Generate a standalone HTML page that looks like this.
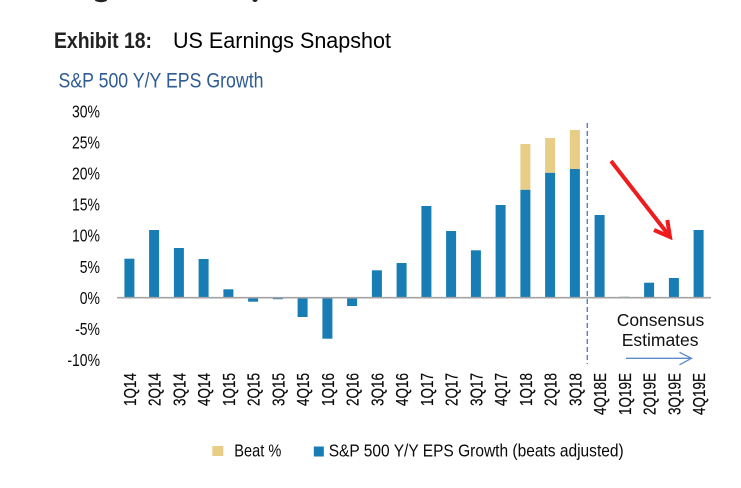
<!DOCTYPE html>
<html><head><meta charset="utf-8"><style>
html,body{margin:0;padding:0;background:#fff;}
svg{display:block;font-family:"Liberation Sans",sans-serif;}
</style></head><body>
<svg width="741" height="488" viewBox="0 0 741 488" xmlns="http://www.w3.org/2000/svg">
<rect width="741" height="488" fill="#fff"/>
<ellipse cx="101" cy="0" rx="6" ry="2.2" fill="#222"/>
<ellipse cx="255" cy="0" rx="2.5" ry="2" fill="#222"/>
<text x="54" y="48" font-size="22.5" font-weight="bold" fill="#222" textLength="98" lengthAdjust="spacingAndGlyphs">Exhibit 18:</text>
<text x="173" y="48" font-size="22.5" fill="#000" textLength="218" lengthAdjust="spacingAndGlyphs">US Earnings Snapshot</text>
<text x="58.5" y="87.5" font-size="21" fill="#2e5c91" textLength="205" lengthAdjust="spacingAndGlyphs">S&amp;P 500 Y/Y EPS Growth</text>
<g font-size="17.5" fill="#0a0a0a" text-anchor="end">
<g transform="translate(100,117.3) scale(0.8,1)"><text>30%</text></g>
<g transform="translate(100,148.4) scale(0.8,1)"><text>25%</text></g>
<g transform="translate(100,179.5) scale(0.8,1)"><text>20%</text></g>
<g transform="translate(100,210.6) scale(0.8,1)"><text>15%</text></g>
<g transform="translate(100,241.7) scale(0.8,1)"><text>10%</text></g>
<g transform="translate(100,272.8) scale(0.8,1)"><text>5%</text></g>
<g transform="translate(100,303.9) scale(0.8,1)"><text>0%</text></g>
<g transform="translate(100,335) scale(0.8,1)"><text>-5%</text></g>
<g transform="translate(100,366.1) scale(0.8,1)"><text>-10%</text></g>
</g>
<g fill="#187db5">
<rect x="124.4" y="258.7" width="10" height="39"/>
<rect x="149.1" y="230" width="10" height="67.7"/>
<rect x="173.9" y="248" width="10" height="49.7"/>
<rect x="198.6" y="259" width="10" height="38.7"/>
<rect x="223.4" y="289.3" width="10" height="8.4"/>
<rect x="248.1" y="297.7" width="10" height="4"/>
<rect x="272.9" y="297.7" width="10" height="1.5"/>
<rect x="297.6" y="297.7" width="10" height="19.3"/>
<rect x="322.4" y="297.7" width="10" height="41"/>
<rect x="347.1" y="297.7" width="10" height="8.3"/>
<rect x="371.9" y="270.3" width="10" height="27.4"/>
<rect x="396.6" y="263" width="10" height="34.7"/>
<rect x="421.4" y="206" width="10" height="91.7"/>
<rect x="446.1" y="231" width="10" height="66.7"/>
<rect x="470.9" y="250.3" width="10" height="47.4"/>
<rect x="495.6" y="205" width="10" height="92.7"/>
<rect x="520.4" y="189.7" width="10" height="108"/>
<rect x="545.1" y="172.7" width="10" height="125"/>
<rect x="569.9" y="169" width="10" height="128.7"/>
<rect x="594.6" y="215" width="10" height="82.7"/>
<rect x="644.1" y="282.7" width="10" height="15"/>
<rect x="668.9" y="278" width="10" height="19.7"/>
<rect x="693.6" y="230" width="10" height="67.7"/>
</g>
<rect x="619.4" y="296.5" width="10" height="1.2" fill="#9cc4dc"/>
<g fill="#e8cd86">
<rect x="520.4" y="144" width="10" height="45.7"/>
<rect x="545.1" y="138" width="10" height="34.7"/>
<rect x="569.9" y="130" width="10" height="39"/>
</g>
<line x1="117" y1="297.7" x2="711" y2="297.7" stroke="#a3a3a3" stroke-width="1.6"/>
<line x1="587.3" y1="123" x2="587.3" y2="364" stroke="#4a75b0" stroke-width="1.3" stroke-dasharray="5,3"/>
<g stroke="#ee1c1c" stroke-width="4" fill="none" stroke-linecap="butt">
<line x1="611" y1="161" x2="669" y2="235.5"/>
<polyline points="654,230 670,237 667.3,220"/>
</g>
<text x="616.7" y="326" font-size="17.5" fill="#111">Consensus</text>
<text x="621.7" y="346" font-size="17.5" fill="#111">Estimates</text>
<g stroke="#5a8ccc" stroke-width="1.3" fill="none">
<line x1="626" y1="358.3" x2="691" y2="358.3"/>
<polyline points="679.5,352.3 691.5,358.3 679.5,364.8"/>
</g>
<g font-size="18" fill="#0a0a0a" text-anchor="end" stroke="#0a0a0a" stroke-width="0.2">
<g transform="translate(135.8,373) rotate(-90) scale(0.75,1)"><text>1Q14</text></g>
<g transform="translate(160.5,373) rotate(-90) scale(0.75,1)"><text>2Q14</text></g>
<g transform="translate(185.3,373) rotate(-90) scale(0.75,1)"><text>3Q14</text></g>
<g transform="translate(210,373) rotate(-90) scale(0.75,1)"><text>4Q14</text></g>
<g transform="translate(234.8,373) rotate(-90) scale(0.75,1)"><text>1Q15</text></g>
<g transform="translate(259.5,373) rotate(-90) scale(0.75,1)"><text>2Q15</text></g>
<g transform="translate(284.3,373) rotate(-90) scale(0.75,1)"><text>3Q15</text></g>
<g transform="translate(309,373) rotate(-90) scale(0.75,1)"><text>4Q15</text></g>
<g transform="translate(333.8,373) rotate(-90) scale(0.75,1)"><text>1Q16</text></g>
<g transform="translate(358.5,373) rotate(-90) scale(0.75,1)"><text>2Q16</text></g>
<g transform="translate(383.3,373) rotate(-90) scale(0.75,1)"><text>3Q16</text></g>
<g transform="translate(408,373) rotate(-90) scale(0.75,1)"><text>4Q16</text></g>
<g transform="translate(432.8,373) rotate(-90) scale(0.75,1)"><text>1Q17</text></g>
<g transform="translate(457.5,373) rotate(-90) scale(0.75,1)"><text>2Q17</text></g>
<g transform="translate(482.3,373) rotate(-90) scale(0.75,1)"><text>3Q17</text></g>
<g transform="translate(507,373) rotate(-90) scale(0.75,1)"><text>4Q17</text></g>
<g transform="translate(531.8,373) rotate(-90) scale(0.75,1)"><text>1Q18</text></g>
<g transform="translate(556.5,373) rotate(-90) scale(0.75,1)"><text>2Q18</text></g>
<g transform="translate(581.3,373) rotate(-90) scale(0.75,1)"><text>3Q18</text></g>
<g transform="translate(606,373) rotate(-90) scale(0.75,1)"><text>4Q18E</text></g>
<g transform="translate(630.8,373) rotate(-90) scale(0.75,1)"><text>1Q19E</text></g>
<g transform="translate(655.5,373) rotate(-90) scale(0.75,1)"><text>2Q19E</text></g>
<g transform="translate(680.3,373) rotate(-90) scale(0.75,1)"><text>3Q19E</text></g>
<g transform="translate(705,373) rotate(-90) scale(0.75,1)"><text>4Q19E</text></g>
</g>
<rect x="212.3" y="446" width="11" height="10" fill="#e8cd86"/>
<text x="234.3" y="456.5" font-size="17.5" fill="#0a0a0a" textLength="47" lengthAdjust="spacingAndGlyphs">Beat %</text>
<rect x="313.8" y="446.5" width="10" height="10" fill="#187db5"/>
<text x="328.7" y="456.5" font-size="17.5" fill="#0a0a0a" textLength="295" lengthAdjust="spacingAndGlyphs">S&amp;P 500 Y/Y EPS Growth (beats adjusted)</text>
</svg>
</body></html>
